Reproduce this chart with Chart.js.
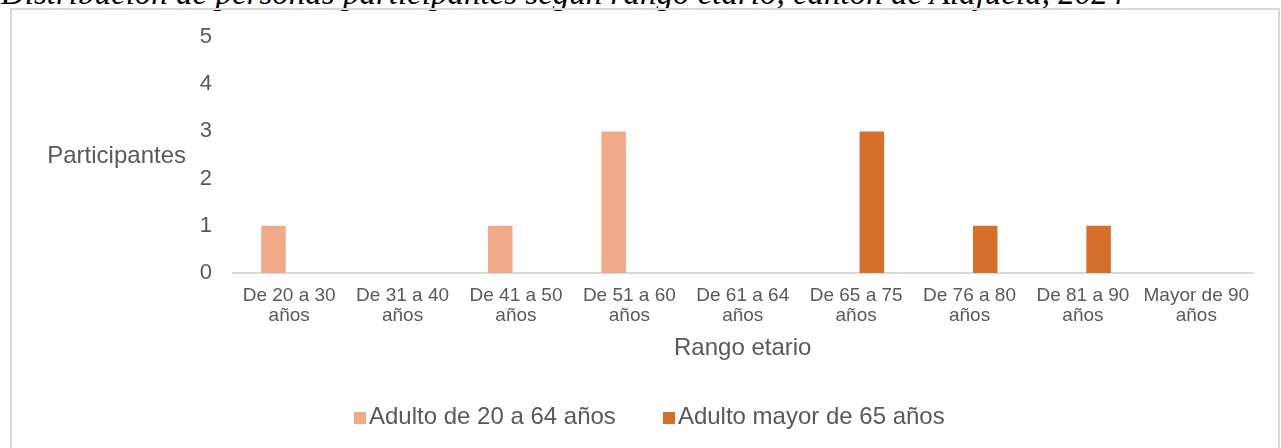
<!DOCTYPE html>
<html lang="es">
<head>
  <meta charset="UTF-8">
  <title>Participantes según rango etario</title>
  <!-- Chart.js -->
  <script src="https://cdn.jsdelivr.net/npm/chart.js"></script>
  <style>
    body { margin: 0; width: 1281px; height: 448px; overflow: hidden; background: #fff; position: relative;
           font-family: "Liberation Sans", Arial, sans-serif; }
    #titulo { position: absolute; left: 1px; top: -23px; font-family: "Liberation Serif", "Times New Roman", serif;
              font-style: italic; font-size: 33px; line-height: 33px; white-space: nowrap; color: #000; }
    #marco { position: absolute; left: 10px; top: 8px; width: 1270px; height: 460px;
             border: 2px solid #d9d9d9; box-sizing: border-box; }
    #grafico { position: absolute; left: 0; top: 0; }
    #leyenda { position: absolute; left: 354px; top: 404px; font-size: 24px; line-height: 24px;
               color: #595959; white-space: nowrap; }
    .item { display: inline-block; }
    .item + .item { margin-left: 47px; }
    .caja { display: inline-block; width: 12px; height: 12px; margin-right: 3px; }
  </style>
</head>
<body>
  <div id="titulo">Distribución de personas participantes según rango etario, cantón de Alajuela, 2024</div>
  <div id="marco"></div>
  <canvas id="grafico" width="1281" height="448"></canvas>
  <div id="leyenda"></div>

  <script>
    // datos del gráfico
    const categorias = [
      ['De 20 a 30', 'años'], ['De 31 a 40', 'años'], ['De 41 a 50', 'años'],
      ['De 51 a 60', 'años'], ['De 61 a 64', 'años'], ['De 65 a 75', 'años'],
      ['De 76 a 80', 'años'], ['De 81 a 90', 'años'], ['Mayor de 90', 'años']
    ];
    const adulto = [1, 0, 1, 3, 0, 0, 0, 0, 0];
    const adultoMayor = [0, 0, 0, 0, 0, 3, 1, 1, 0];
    const series = ['Adulto de 20 a 64 años', 'Adulto mayor de 65 años'];
    const colores = ['#f2a98a', '#d4702b'];
    const tituloX = 'Rango etario';
    const tituloY = 'Participantes';
    const colorTexto = '#595959';
    const fuente = '"Liberation Sans", Arial, sans-serif';

    // titulos de ejes (el del eje y va horizontal)
    const titulosEjes = {
      id: 'titulosEjes',
      afterDraw(chart) {
        const { ctx, chartArea, scales } = chart;
        ctx.save();
        ctx.fillStyle = colorTexto;
        ctx.font = '24px ' + fuente;
        ctx.textBaseline = 'middle';
        ctx.textAlign = 'right';
        ctx.fillText(tituloY, chartArea.left - 46.5, scales.y.getPixelForValue(2.5) + 1);
        ctx.textAlign = 'center';
        ctx.fillText(tituloX, (chartArea.left + chartArea.right) / 2, chartArea.bottom + 75.5);
        ctx.restore();
      }
    };

    const grafico = new Chart(document.getElementById('grafico'), {
      type: 'bar',
      data: {
        labels: categorias,
        datasets: [
          { label: series[0], data: adulto, backgroundColor: colores[0] },
          { label: series[1], data: adultoMayor, backgroundColor: colores[1] }
        ]
      },
      options: {
        responsive: false,
        animation: false,
        devicePixelRatio: 1,
        categoryPercentage: 0.554,
        barPercentage: 0.78,
        layout: { padding: { left: 0, right: 28, top: 37, bottom: 0 } },
        plugins: { legend: { display: false }, tooltip: { enabled: false } },
        scales: {
          x: {
            grid: { display: false, drawTicks: false },
            border: { display: true, color: '#d9d9d9', width: 2 },
            ticks: { color: colorTexto, font: { family: fuente, size: 19, lineHeight: 1.085 },
                     padding: 12.3, maxRotation: 0, autoSkip: false },
            afterFit(s) { s.height = 175; }
          },
          y: {
            min: 0, max: 5,
            grid: { display: false, drawTicks: false },
            border: { display: false },
            ticks: { stepSize: 1, color: colorTexto, font: { family: fuente, size: 22 }, padding: 20.5 },
            afterFit(s) { s.width = 232.5; }
          }
        }
      },
      plugins: [titulosEjes]
    });

    // leyenda en html
    const leyenda = document.getElementById('leyenda');
    grafico.data.datasets.forEach(ds => {
      const item = document.createElement('span');
      item.className = 'item';
      item.innerHTML = '<span class="caja" style="background:' + ds.backgroundColor + '"></span>' + ds.label;
      leyenda.appendChild(item);
    });
  </script>
</body>
</html>
